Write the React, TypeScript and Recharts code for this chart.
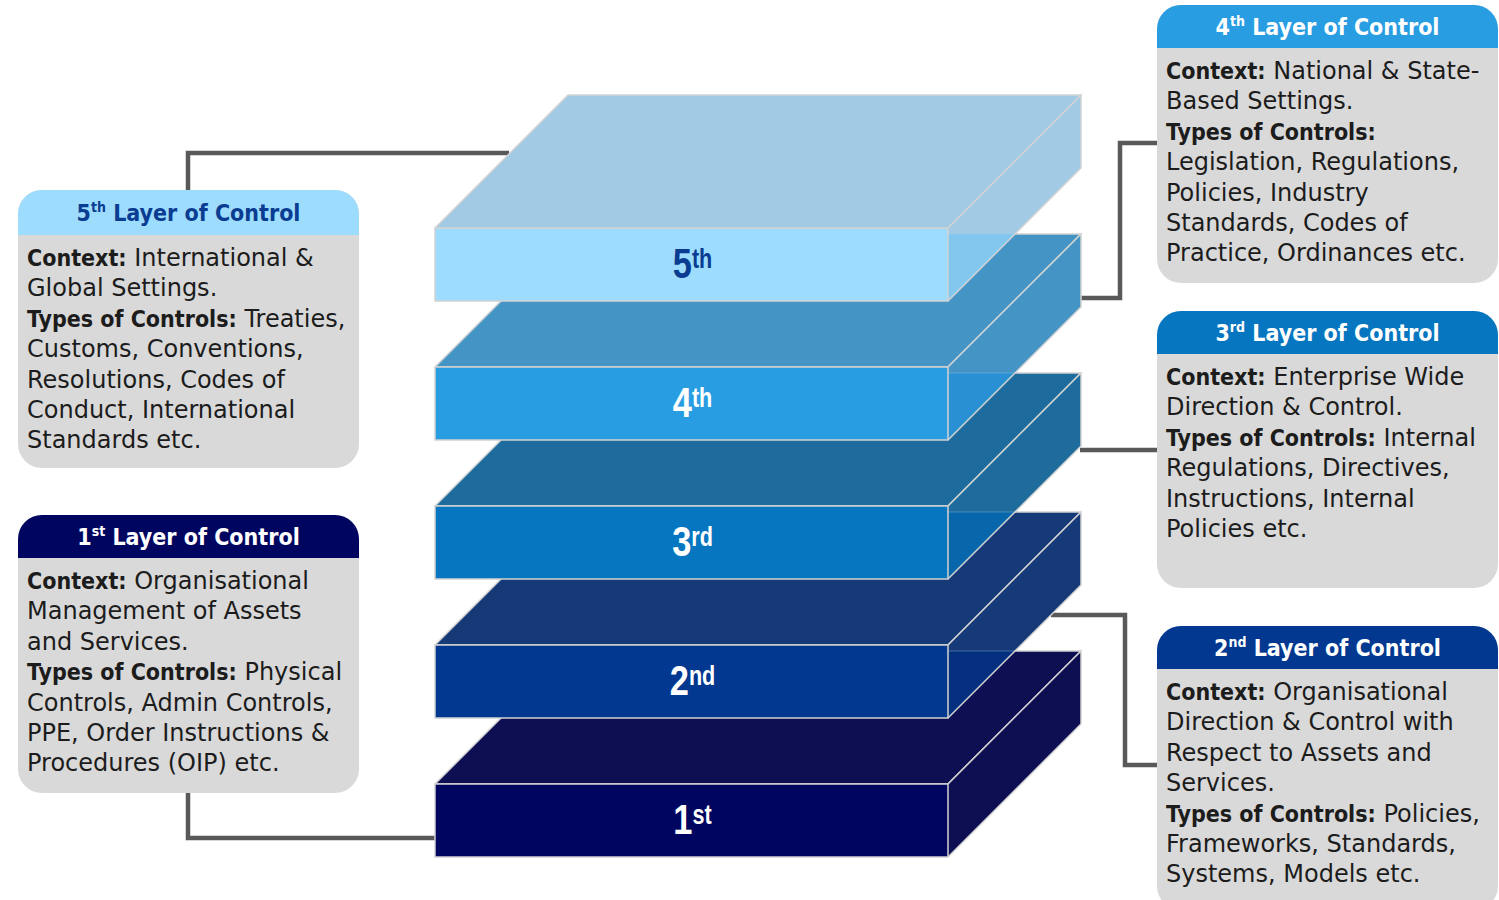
import React from 'react';
import { BarChart, Bar, XAxis, YAxis, Customized } from 'recharts';

// ---------- data ----------
const LAYERS = ['1st', '2nd', '3rd', '4th', '5th'];
const LAYER_NUM = ['1', '2', '3', '4', '5'];
const LAYER_SUP = ['st', 'nd', 'rd', 'th', 'th'];
const LAYER_WIDTH = [1, 1, 1, 1, 1];

const BOX_1ST: [string, string][] = [
  ['Context:', ' Organisational'],
  ['', 'Management of Assets'],
  ['', 'and Services.'],
  ['Types of Controls:', ' Physical'],
  ['', 'Controls, Admin Controls,'],
  ['', 'PPE, Order Instructions &'],
  ['', 'Procedures (OIP) etc.'],
];
const BOX_2ND: [string, string][] = [
  ['Context:', ' Organisational'],
  ['', 'Direction & Control with'],
  ['', 'Respect to Assets and'],
  ['', 'Services.'],
  ['Types of Controls:', ' Policies,'],
  ['', 'Frameworks, Standards,'],
  ['', 'Systems, Models etc.'],
];
const BOX_3RD: [string, string][] = [
  ['Context:', ' Enterprise Wide'],
  ['', 'Direction & Control.'],
  ['Types of Controls:', ' Internal'],
  ['', 'Regulations, Directives,'],
  ['', 'Instructions, Internal'],
  ['', 'Policies etc.'],
];
const BOX_4TH: [string, string][] = [
  ['Context:', ' National & State-'],
  ['', 'Based Settings.'],
  ['Types of Controls:', ''],
  ['', 'Legislation, Regulations,'],
  ['', 'Policies, Industry'],
  ['', 'Standards, Codes of'],
  ['', 'Practice, Ordinances etc.'],
];
const BOX_5TH: [string, string][] = [
  ['Context:', ' International &'],
  ['', 'Global Settings.'],
  ['Types of Controls:', ' Treaties,'],
  ['', 'Customs, Conventions,'],
  ['', 'Resolutions, Codes of'],
  ['', 'Conduct, International'],
  ['', 'Standards etc.'],
];
const BOX_LINES = [BOX_1ST, BOX_2ND, BOX_3RD, BOX_4TH, BOX_5TH];
const HEADER_TITLE = ' Layer of Control';

// ---------- styles ----------
const FRONT = ['#000660', '#02388f', '#0676c0', '#299de2', '#9edcfd'];
const TOP = ['#0e0f53', '#163a77', '#1e6c9e', '#4495c5', '#a1cae4'];
const OVERLAP = ['#0e0f53', '#04307f', '#0866aa', '#2a90d4', '#82c8ee'];
const LABEL = ['#ffffff', '#ffffff', '#ffffff', '#ffffff', '#0a3d91'];
const EDGE = '#d2d2d2';
const DEPTH = 133;
const PITCH = 139;

const FONT = "'DejaVu Sans', sans-serif";
const BOLD_FONT = "'DejaVu Sans Condensed', 'DejaVu Sans', sans-serif";
const NUM_FONT = "'Liberation Sans', Arial, sans-serif";

// box layout: [x, top, headerBottom, bottom]
const BOX_GEOM: [number, number, number, number][] = [
  [18, 515, 558, 793],
  [1157, 626, 669, 910],
  [1157, 311, 354, 588],
  [1157, 5, 48, 283],
  [18, 190, 235, 468],
];
const BOX_W = 341;

const CONNECTORS = [
  'M188,793 V838 H435',
  'M1051,615 H1125 V765 H1157',
  'M1080,450 H1157',
  'M1081,298 H1120 V143 H1157',
  'M188,190 V153 H509',
];

const data = LAYERS.map((name, i) => ({ name, value: LAYER_WIDTH[i] }));

const Slab = (props: any) => {
  const { x, y, width, height, index } = props;
  const r = x + width;
  const hasBelow = index > 0;
  const cut = y + PITCH - DEPTH; // back edge of lower slab
  const frontPts = `${x},${y} ${r},${y} ${r},${y + height} ${x},${y + height}`;
  const topPts = `${x},${y} ${x + DEPTH},${y - DEPTH} ${r + DEPTH},${y - DEPTH} ${r},${y}`;
  const sidePts = hasBelow
    ? `${r},${y} ${r + DEPTH},${y - DEPTH} ${r + DEPTH},${y - DEPTH + height} ${r + (y + height - cut)},${cut} ${r},${cut}`
    : `${r},${y} ${r + DEPTH},${y - DEPTH} ${r + DEPTH},${y - DEPTH + height} ${r},${y + height}`;
  const overlapPts = `${r},${cut} ${r + (y + height - cut)},${cut} ${r},${y + height}`;
  const cx = x + width / 2 + 1;
  const by = y + height / 2 + 13;
  return (
    <g>
      <polygon points={topPts} fill={TOP[index]} stroke={EDGE} strokeWidth={1.5} strokeLinejoin="round" />
      <polygon points={sidePts} fill={TOP[index]} stroke="none" />
      {hasBelow && <polygon points={overlapPts} fill={OVERLAP[index]} stroke="none" />}
      {hasBelow && <line x1={r} y1={cut} x2={r + (y + height - cut)} y2={cut} stroke="#9fd0ee" strokeOpacity={0.35} strokeWidth={1.2} />}
      <polyline
        points={`${r},${y} ${r + DEPTH},${y - DEPTH} ${r + DEPTH},${y - DEPTH + height} ${r},${y + height}`}
        fill="none"
        stroke={EDGE}
        strokeWidth={1.5}
      />
      <polygon points={frontPts} fill={FRONT[index]} stroke={EDGE} strokeWidth={1.5} />
      <g transform={`translate(${cx},${by}) scale(0.8,1)`}>
        <text x={0} y={0} textAnchor="middle" fill={LABEL[index]} fontFamily={NUM_FONT} fontWeight="bold" fontSize={43}>
          <tspan>{LAYER_NUM[index]}</tspan>
          <tspan fontSize={27} dy={-10}>{LAYER_SUP[index]}</tspan>
        </text>
      </g>
    </g>
  );
};

const Connectors = () => (
  <g>
    {CONNECTORS.map((d, i) => (
      <path key={i} d={d} fill="none" stroke="#595959" strokeWidth={4.5} strokeLinejoin="miter" />
    ))}
  </g>
);

const Boxes = () => (
  <g>
    {BOX_GEOM.map(([bx, top, hb, bottom], i) => {
      const rad = 24;
      const headerPath = `M${bx},${hb} V${top + rad} A${rad},${rad} 0 0 1 ${bx + rad},${top} H${bx + BOX_W - rad} A${rad},${rad} 0 0 1 ${bx + BOX_W},${top + rad} V${hb} Z`;
      const cx = bx + BOX_W / 2;
      const hy = (top + hb) / 2 + 8;
      return (
        <g key={i}>
          <rect x={bx} y={top} width={BOX_W} height={bottom - top} rx={rad} ry={rad} fill="#d9d9d9" />
          <path d={headerPath} fill={FRONT[i]} />
          <text x={cx} y={hy} textAnchor="middle" fill={LABEL[i]} fontFamily={BOLD_FONT} fontWeight="bold" fontSize={23} style={{ whiteSpace: 'pre' }}>
            <tspan>{LAYER_NUM[i]}</tspan>
            <tspan fontSize={14} dy={-9}>{LAYER_SUP[i]}</tspan>
            <tspan dy={9}>{HEADER_TITLE}</tspan>
          </text>
          {BOX_LINES[i].map(([b, t], k) => (
            <text
              key={k}
              x={bx + 9}
              y={hb + 31 + k * 30.4}
              fill="#1c1c1c"
              fontFamily={FONT}
              fontSize={24}
              style={{ whiteSpace: 'pre' }}
            >
              {b && (
                <tspan fontFamily={BOLD_FONT} fontWeight="bold" fontSize={23}>
                  {b}
                </tspan>
              )}
              {t && <tspan>{t}</tspan>}
            </text>
          ))}
        </g>
      );
    })}
  </g>
);

export default function App() {
  return (
    <div style={{ position: 'absolute', left: 0, top: 0, width: 1499, height: 900, background: '#ffffff' }}>
      <BarChart
        width={1499}
        height={900}
        data={data}
        layout="vertical"
        margin={{ top: 195, bottom: 10, left: 435, right: 551 }}
        barCategoryGap={0}
      >
        <XAxis type="number" domain={[0, 1]} hide />
        <YAxis type="category" dataKey="name" hide reversed />
        <Customized component={Connectors} />
        <Bar dataKey="value" barSize={73} isAnimationActive={false} shape={(p: any) => <Slab {...p} />} />
        <Customized component={Boxes} />
      </BarChart>
    </div>
  );
}
